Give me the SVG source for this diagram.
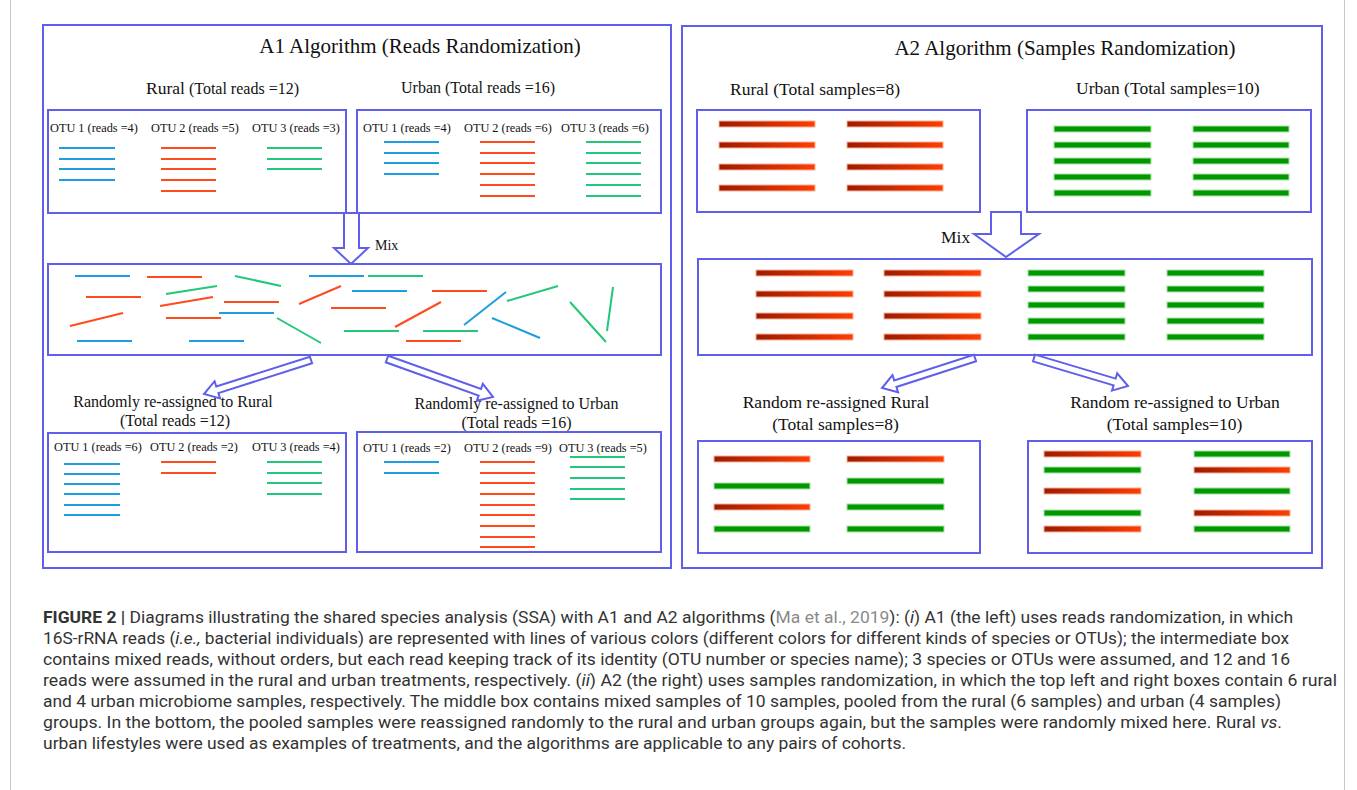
<svg xmlns="http://www.w3.org/2000/svg" width="1357" height="790" viewBox="0 0 1357 790">
<style>
.box{fill:none;stroke:#5f5feb;stroke-width:2}
.arr{fill:#fff;stroke:#5f5feb;stroke-width:2;stroke-linejoin:miter}
.t{font-family:"Liberation Serif","Times New Roman",serif;fill:#111}
.b{stroke:#1e9ee0;stroke-width:2}
.r{stroke:#ff4a1e;stroke-width:2}
.g{stroke:#20c878;stroke-width:2}
.rb{fill:url(#redg);stroke:#f8b09a;stroke-width:1}
.gb{fill:#009a00;stroke:#a8e0a8;stroke-width:1}
.cap{font-family:Roboto,"Liberation Sans",Arial,sans-serif;font-size:16.5px;fill:#333}
.frame{stroke:#c8c8c8;stroke-width:1}
</style>
<defs>
<linearGradient id="redg" x1="0" y1="0" x2="1" y2="0">
<stop offset="0" stop-color="#9c1c00"/>
<stop offset="1" stop-color="#ff3d00"/>
</linearGradient>
</defs>
<rect width="1357" height="790" fill="#fff"/>
<line class="frame" x1="10.5" y1="0" x2="10.5" y2="790"/>
<line class="frame" x1="1344.5" y1="0" x2="1344.5" y2="790"/>

<g id="A1">
<rect class="box" x="43" y="25" width="628" height="543"/>
<text class="t" x="420" y="53" font-size="21" text-anchor="middle">A1 Algorithm (Reads Randomization)</text>
</g>

<g id="A1-rural">
<text class="t" x="146" y="94" font-size="16"><tspan font-size="17.5">Rural</tspan> (Total reads =12)</text>
<rect class="box" x="48" y="110" width="298" height="103"/>
<g class="t" font-size="12.3">
<text x="50" y="132">OTU 1 (reads =4)</text>
<text x="151" y="132">OTU 2 (reads =5)</text>
<text x="252" y="132">OTU 3 (reads =3)</text>
</g>
<g class="b"><line x1="59" y1="148" x2="115" y2="148"/><line x1="59" y1="159" x2="115" y2="159"/><line x1="59" y1="169" x2="115" y2="169"/><line x1="59" y1="180" x2="115" y2="180"/></g>
<g class="r"><line x1="161" y1="148" x2="216" y2="148"/><line x1="161" y1="159" x2="216" y2="159"/><line x1="161" y1="169" x2="216" y2="169"/><line x1="161" y1="180" x2="216" y2="180"/><line x1="161" y1="191" x2="216" y2="191"/></g>
<g class="g"><line x1="267" y1="148" x2="322" y2="148"/><line x1="267" y1="159" x2="322" y2="159"/><line x1="267" y1="169" x2="322" y2="169"/></g>
</g>

<g id="A1-urban">
<text class="t" x="401" y="93" font-size="16">Urban (Total reads =16)</text>
<rect class="box" x="357" y="110" width="304" height="103"/>
<g class="t" font-size="12.3">
<text x="363" y="132">OTU 1 (reads =4)</text>
<text x="464" y="132">OTU 2 (reads =6)</text>
<text x="561" y="132">OTU 3 (reads =6)</text>
</g>
<g class="b"><line x1="384" y1="142" x2="439" y2="142"/><line x1="384" y1="153" x2="439" y2="153"/><line x1="384" y1="163" x2="439" y2="163"/><line x1="384" y1="174" x2="439" y2="174"/></g>
<g class="r"><line x1="480" y1="142" x2="535" y2="142"/><line x1="480" y1="153" x2="535" y2="153"/><line x1="480" y1="163" x2="535" y2="163"/><line x1="480" y1="174" x2="535" y2="174"/><line x1="480" y1="185" x2="535" y2="185"/><line x1="480" y1="196" x2="535" y2="196"/></g>
<g class="g"><line x1="586" y1="142" x2="641" y2="142"/><line x1="586" y1="153" x2="641" y2="153"/><line x1="586" y1="163" x2="641" y2="163"/><line x1="586" y1="174" x2="641" y2="174"/><line x1="586" y1="185" x2="641" y2="185"/><line x1="586" y1="196" x2="641" y2="196"/></g>
</g>

<g id="A1-mix">
<rect class="box" x="48" y="264" width="613" height="91"/>
<g class="b">
<line x1="75" y1="276" x2="130" y2="276"/><line x1="309" y1="276" x2="364" y2="276"/><line x1="352" y1="291" x2="407" y2="291"/><line x1="219" y1="313" x2="274" y2="313"/><line x1="77" y1="341" x2="132" y2="341"/><line x1="189" y1="341" x2="244" y2="341"/><line x1="464" y1="325" x2="506" y2="292"/><line x1="492" y1="318" x2="540" y2="338"/>
</g>
<g class="r">
<line x1="147" y1="277" x2="202" y2="277"/><line x1="86" y1="297" x2="141" y2="297"/><line x1="160" y1="306" x2="213" y2="297"/><line x1="224" y1="302" x2="279" y2="302"/><line x1="299" y1="304" x2="341" y2="286"/><line x1="331" y1="308" x2="386" y2="308"/><line x1="70" y1="326" x2="123" y2="313"/><line x1="166" y1="318" x2="221" y2="318"/><line x1="432" y1="291" x2="487" y2="291"/><line x1="395" y1="327" x2="441" y2="302"/><line x1="406" y1="341" x2="461" y2="341"/>
</g>
<g class="g">
<line x1="235" y1="276" x2="281" y2="286"/><line x1="368" y1="276" x2="423" y2="276"/><line x1="166" y1="294" x2="217" y2="286"/><line x1="277" y1="318" x2="321" y2="343"/><line x1="344" y1="331" x2="399" y2="331"/><line x1="423" y1="331" x2="478" y2="331"/><line x1="507" y1="301" x2="558" y2="286"/><line x1="570" y1="302" x2="606" y2="342"/><line x1="607" y1="331" x2="613" y2="287"/>
</g>
</g>

<g id="A1-rural-out">
<text class="t" x="173" y="407" font-size="16" text-anchor="middle">Randomly re-assigned to Rural</text>
<text class="t" x="175" y="426" font-size="16" text-anchor="middle">(Total reads =12)</text>
<rect class="box" x="48" y="433" width="298" height="119"/>
<g class="t" font-size="12.3">
<text x="54" y="451">OTU 1 (reads =6)</text>
<text x="150" y="451">OTU 2 (reads =2)</text>
<text x="252" y="451">OTU 3 (reads =4)</text>
</g>
<g class="b"><line x1="64" y1="464" x2="120" y2="464"/><line x1="64" y1="474" x2="120" y2="474"/><line x1="64" y1="484" x2="120" y2="484"/><line x1="64" y1="494" x2="120" y2="494"/><line x1="64" y1="505" x2="120" y2="505"/><line x1="64" y1="515" x2="120" y2="515"/></g>
<g class="r"><line x1="161" y1="462" x2="216" y2="462"/><line x1="161" y1="473" x2="216" y2="473"/></g>
<g class="g"><line x1="267" y1="462" x2="322" y2="462"/><line x1="267" y1="473" x2="322" y2="473"/><line x1="267" y1="483" x2="322" y2="483"/><line x1="267" y1="494" x2="322" y2="494"/></g>
</g>

<g id="A1-urban-out">
<text class="t" x="516.5" y="409" font-size="16" text-anchor="middle">Randomly re-assigned to Urban</text>
<text class="t" x="516.5" y="428" font-size="16" text-anchor="middle">(Total reads =16)</text>
<rect class="box" x="357" y="432" width="304" height="120"/>
<g class="t" font-size="12.3">
<text x="363" y="452">OTU 1 (reads =2)</text>
<text x="464" y="452">OTU 2 (reads =9)</text>
<text x="559" y="452">OTU 3 (reads =5)</text>
</g>
<g class="b"><line x1="384" y1="462" x2="439" y2="462"/><line x1="384" y1="473" x2="439" y2="473"/></g>
<g class="r"><line x1="480" y1="462" x2="535" y2="462"/><line x1="480" y1="473" x2="535" y2="473"/><line x1="480" y1="483" x2="535" y2="483"/><line x1="480" y1="494" x2="535" y2="494"/><line x1="480" y1="505" x2="535" y2="505"/><line x1="480" y1="515" x2="535" y2="515"/><line x1="480" y1="526" x2="535" y2="526"/><line x1="480" y1="537" x2="535" y2="537"/><line x1="480" y1="547" x2="535" y2="547"/></g>
<g class="g"><line x1="570" y1="457" x2="625" y2="457"/><line x1="570" y1="467" x2="625" y2="467"/><line x1="570" y1="478" x2="625" y2="478"/><line x1="570" y1="489" x2="625" y2="489"/><line x1="570" y1="499" x2="625" y2="499"/></g>
</g>

<g id="A2">
<rect class="box" x="682" y="26" width="640" height="542"/>
<text class="t" x="1065" y="55" font-size="21" text-anchor="middle">A2 Algorithm (Samples Randomization)</text>
</g>

<g id="A2-rural">
<text class="t" x="730" y="95" font-size="17.5">Rural (Total samples=8)</text>
<rect class="box" x="697" y="110" width="283" height="102"/>
<rect class="rb" x="719" y="121" width="96" height="6"/><rect class="rb" x="719" y="142" width="96" height="6"/><rect class="rb" x="719" y="164" width="96" height="6"/><rect class="rb" x="719" y="185" width="96" height="6"/>
<rect class="rb" x="847" y="121" width="96" height="6"/><rect class="rb" x="847" y="142" width="96" height="6"/><rect class="rb" x="847" y="164" width="96" height="6"/><rect class="rb" x="847" y="185" width="96" height="6"/>
</g>

<g id="A2-urban">
<text class="t" x="1076" y="94" font-size="17.5">Urban (Total samples=10)</text>
<rect class="box" x="1027" y="110" width="284" height="102"/>
<rect class="gb" x="1054" y="126" width="97" height="6"/><rect class="gb" x="1054" y="142" width="97" height="6"/><rect class="gb" x="1054" y="158" width="97" height="6"/><rect class="gb" x="1054" y="174" width="97" height="6"/><rect class="gb" x="1054" y="190" width="97" height="6"/>
<rect class="gb" x="1193" y="126" width="96" height="6"/><rect class="gb" x="1193" y="142" width="96" height="6"/><rect class="gb" x="1193" y="158" width="96" height="6"/><rect class="gb" x="1193" y="174" width="96" height="6"/><rect class="gb" x="1193" y="190" width="96" height="6"/>
</g>

<g id="A2-mix">
<rect class="box" x="698" y="259" width="614" height="96"/>
<rect class="rb" x="756" y="270" width="97" height="6"/><rect class="rb" x="756" y="291" width="97" height="6"/><rect class="rb" x="756" y="313" width="97" height="6"/><rect class="rb" x="756" y="334" width="97" height="6"/>
<rect class="rb" x="884" y="270" width="97" height="6"/><rect class="rb" x="884" y="291" width="97" height="6"/><rect class="rb" x="884" y="313" width="97" height="6"/><rect class="rb" x="884" y="334" width="97" height="6"/>
<rect class="gb" x="1028" y="270" width="97" height="6"/><rect class="gb" x="1028" y="286" width="97" height="6"/><rect class="gb" x="1028" y="302" width="97" height="6"/><rect class="gb" x="1028" y="318" width="97" height="6"/><rect class="gb" x="1028" y="334" width="97" height="6"/>
<rect class="gb" x="1167" y="270" width="97" height="6"/><rect class="gb" x="1167" y="286" width="97" height="6"/><rect class="gb" x="1167" y="302" width="97" height="6"/><rect class="gb" x="1167" y="318" width="97" height="6"/><rect class="gb" x="1167" y="334" width="97" height="6"/>
</g>

<g id="A2-rural-out">
<text class="t" x="836" y="408" font-size="17.5" text-anchor="middle">Random re-assigned Rural</text>
<text class="t" x="835.5" y="430" font-size="17.5" text-anchor="middle">(Total samples=8)</text>
<rect class="box" x="698" y="441" width="282" height="112"/>
<rect class="rb" x="714" y="456" width="96" height="6"/><rect class="gb" x="714" y="483" width="96" height="6"/><rect class="rb" x="714" y="504" width="96" height="6"/><rect class="gb" x="714" y="526" width="96" height="6"/>
<rect class="rb" x="847" y="456" width="97" height="6"/><rect class="gb" x="847" y="478" width="97" height="6"/><rect class="gb" x="847" y="504" width="97" height="6"/><rect class="gb" x="847" y="526" width="97" height="6"/>
</g>

<g id="A2-urban-out">
<text class="t" x="1175" y="408" font-size="17.5" text-anchor="middle">Random re-assigned to Urban</text>
<text class="t" x="1174.5" y="430" font-size="17.5" text-anchor="middle">(Total samples=10)</text>
<rect class="box" x="1028" y="441" width="284" height="112"/>
<rect class="rb" x="1044" y="451" width="97" height="6"/><rect class="gb" x="1044" y="467" width="97" height="6"/><rect class="rb" x="1044" y="488" width="97" height="6"/><rect class="gb" x="1044" y="510" width="97" height="6"/><rect class="rb" x="1044" y="526" width="97" height="6"/>
<rect class="gb" x="1194" y="451" width="96" height="6"/><rect class="rb" x="1194" y="467" width="96" height="6"/><rect class="gb" x="1194" y="488" width="96" height="6"/><rect class="rb" x="1194" y="510" width="96" height="6"/><rect class="gb" x="1194" y="526" width="96" height="6"/>
</g>

<g id="connectors">
<polygon class="arr" points="344,213 344,248 334,248 351,264 368,248 359,248 359,213"/>
<text class="t" x="375" y="250" font-size="14">Mix</text>
<polygon class="arr" points="312.1,363.3 218.4,393.1 220,398.4 204,394 214.6,381.2 216.2,386.5 309.9,356.7"/>
<polygon class="arr" points="388.2,355.7 481,389 482.8,383.8 493,397 476.8,400.8 478.6,395.6 385.8,362.3"/>
<polygon class="arr" points="991,212 991,234 974,234 1006,257 1039,234 1021,234 1021,212"/>
<text class="t" x="941" y="243" font-size="17.5">Mix</text>
<polygon class="arr" points="976.1,361.3 896.4,387 898.1,392.3 882,388 892.5,375.1 894.2,380.4 973.9,354.7"/>
<polygon class="arr" points="1035,354.6 1115.6,378.6 1117.2,373.4 1128,386 1112,390.6 1113.6,385.4 1033,361.4"/>
</g>

<g id="caption" class="cap">
<text x="43" y="623" textLength="1250" lengthAdjust="spacingAndGlyphs"><tspan font-weight="bold">FIGURE 2 |</tspan> Diagrams illustrating the shared species analysis (SSA) with A1 and A2 algorithms (<tspan fill="#8a8a8a">Ma et al., 2019</tspan>): (<tspan font-style="italic">i</tspan>) A1 (the left) uses reads randomization, in which</text>
<text x="43" y="644" textLength="1246" lengthAdjust="spacingAndGlyphs">16S-rRNA reads (<tspan font-style="italic">i.e.,</tspan> bacterial individuals) are represented with lines of various colors (different colors for different kinds of species or OTUs); the intermediate box</text>
<text x="43" y="665" textLength="1247" lengthAdjust="spacingAndGlyphs">contains mixed reads, without orders, but each read keeping track of its identity (OTU number or species name); 3 species or OTUs were assumed, and 12 and 16</text>
<text x="43" y="686" textLength="1294" lengthAdjust="spacingAndGlyphs">reads were assumed in the rural and urban treatments, respectively. (<tspan font-style="italic">ii</tspan>) A2 (the right) uses samples randomization, in which the top left and right boxes contain 6 rural</text>
<text x="43" y="707" textLength="1238" lengthAdjust="spacingAndGlyphs">and 4 urban microbiome samples, respectively. The middle box contains mixed samples of 10 samples, pooled from the rural (6 samples) and urban (4 samples)</text>
<text x="43" y="728" textLength="1239" lengthAdjust="spacingAndGlyphs">groups. In the bottom, the pooled samples were reassigned randomly to the rural and urban groups again, but the samples were randomly mixed here. Rural <tspan font-style="italic">vs</tspan>.</text>
<text x="43" y="749" textLength="863" lengthAdjust="spacingAndGlyphs">urban lifestyles were used as examples of treatments, and the algorithms are applicable to any pairs of cohorts.</text>
</g>
</svg>
